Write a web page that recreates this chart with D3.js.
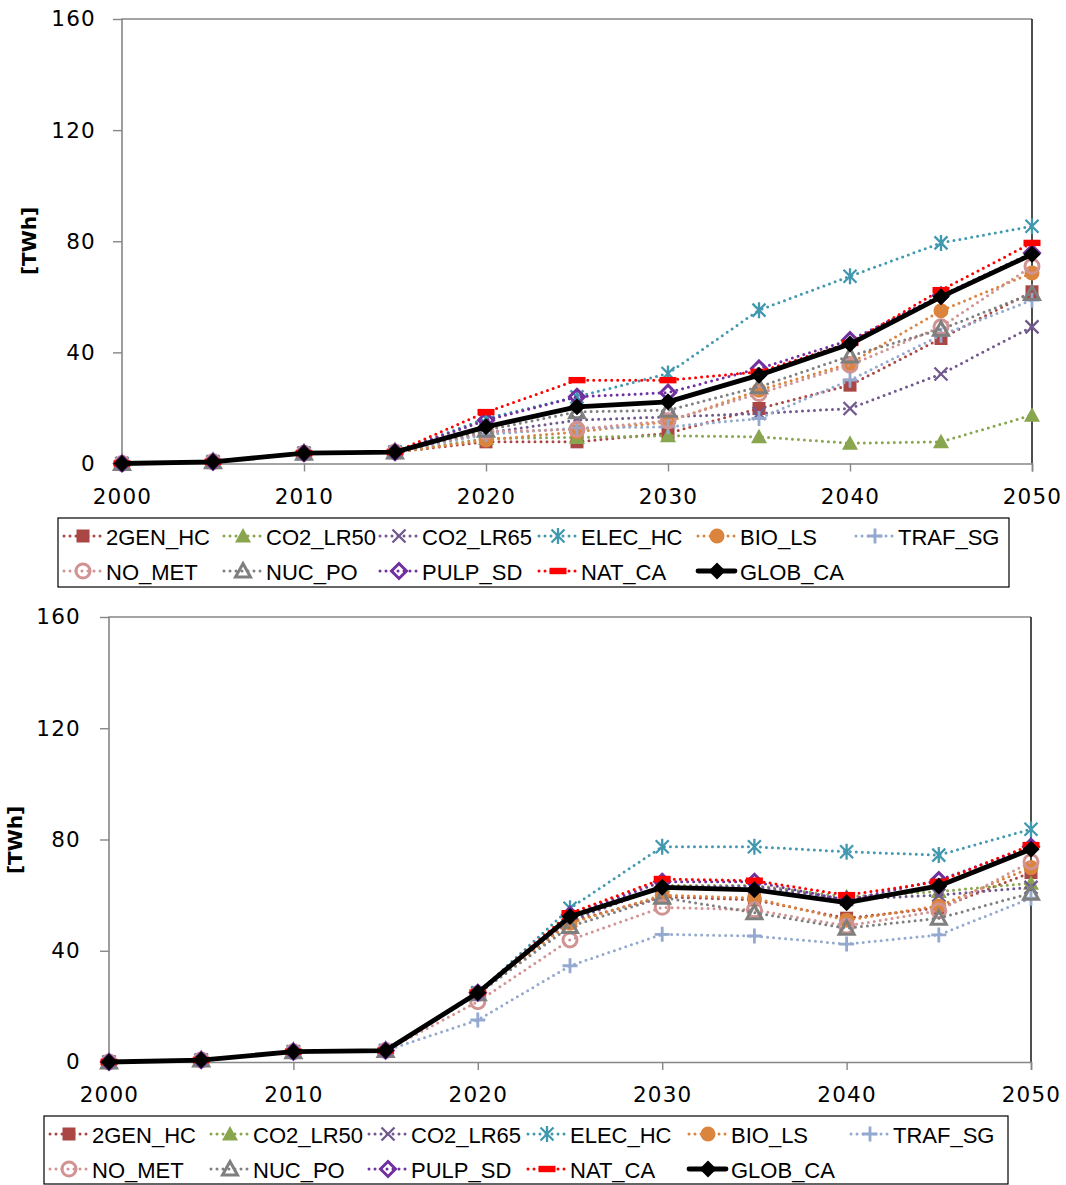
<!DOCTYPE html>
<html>
<head>
<meta charset="utf-8">
<script src="https://cdn.jsdelivr.net/npm/d3@7"></script>
<style>
  html, body { margin: 0; padding: 0; background: #fff; }
  svg { display: block; }
</style>
</head>
<body>
<svg id="chart" width="1066" height="1185"></svg>
<script>
// Years on the horizontal axis
const years = [2000, 2005, 2010, 2015, 2020, 2025, 2030, 2035, 2040, 2045, 2050];
const xTicks = [2000, 2010, 2020, 2030, 2040, 2050];
const yTicks = [0, 40, 80, 120, 160];
const seriesNames = ["2GEN_HC", "CO2_LR50", "CO2_LR65", "ELEC_HC", "BIO_LS", "TRAF_SG",
                     "NO_MET", "NUC_PO", "PULP_SD", "NAT_CA", "GLOB_CA"];
const unitLabel = "[TWh]";

// Upper panel values [TWh]
const a_2GEN_HC  = [0, 0.6, 3.7, 4.1, 7.8, 7.8, 10.9, 19.8, 28.2, 45.0, 61.8];
const a_CO2_LR50 = [0, 0.6, 3.7, 4.1, 9.0, 9.4, 10.0, 9.6, 7.3, 7.8, 17.4];
const a_CO2_LR65 = [0, 0.6, 3.7, 4.1, 11.0, 15.6, 16.8, 18.0, 19.8, 32.2, 49.2];
const a_ELEC_HC  = [0, 0.6, 3.7, 4.1, 16.2, 24.0, 32.4, 55.2, 67.4, 79.4, 85.4];
const a_BIO_LS   = [0, 0.6, 3.7, 4.1, 8.5, 11.4, 15.0, 26.4, 36.0, 55.0, 68.6];
const a_TRAF_SG  = [0, 0.6, 3.7, 4.1, 10.5, 12.8, 13.2, 16.2, 30.0, 46.2, 58.8];
const a_NO_MET   = [0, 0.6, 3.7, 4.1, 11.4, 12.3, 15.4, 25.2, 35.4, 49.2, 71.0];
const a_NUC_PO   = [0, 0.6, 3.7, 4.1, 12.0, 18.6, 19.2, 27.6, 38.7, 48.3, 61.2];
const a_PULP_SD  = [0, 0.6, 3.7, 4.1, 15.6, 24.0, 25.5, 34.2, 44.4, 60.5, 75.8];
const a_NAT_CA   = [0, 0.6, 3.7, 4.1, 18.5, 30.0, 30.0, 33.0, 43.4, 62.4, 79.4];
const a_GLOB_CA  = [0, 0.6, 3.7, 4.1, 13.2, 20.4, 22.2, 31.8, 43.0, 60.0, 75.3];

// Lower panel values [TWh]
const b_2GEN_HC  = [0, 0.7, 3.7, 4.1, 24.8, 50.5, 59.4, 58.3, 51.7, 55.4, 68.1];
const b_CO2_LR50 = [0, 0.7, 3.7, 4.1, 24.8, 51.0, 63.5, 63.5, 59.4, 61.3, 64.3];
const b_CO2_LR65 = [0, 0.7, 3.7, 4.1, 24.8, 50.8, 63.0, 63.2, 58.5, 60.0, 62.8];
const b_ELEC_HC  = [0, 0.7, 3.7, 4.1, 24.9, 55.3, 77.4, 77.4, 75.6, 74.4, 83.7];
const b_BIO_LS   = [0, 0.7, 3.7, 4.1, 24.8, 49.9, 60.0, 58.9, 51.0, 56.1, 69.9];
const b_TRAF_SG  = [0, 0.7, 3.7, 4.1, 15.1, 34.6, 45.9, 45.3, 42.4, 45.7, 58.9];
const b_NO_MET   = [0, 0.7, 3.7, 4.1, 21.7, 43.9, 55.6, 54.7, 48.9, 54.4, 72.0];
const b_NUC_PO   = [0, 0.7, 3.7, 4.1, 24.5, 48.7, 59.2, 53.7, 48.1, 51.7, 60.7];
const b_PULP_SD  = [0, 0.7, 3.7, 4.1, 24.9, 52.9, 64.8, 64.8, 58.2, 65.4, 77.4];
const b_NAT_CA   = [0, 0.7, 3.7, 4.1, 25.0, 53.5, 65.8, 65.2, 60.0, 64.8, 78.0];
const b_GLOB_CA  = [0, 0.7, 3.7, 4.1, 24.9, 52.3, 62.8, 61.9, 57.3, 63.3, 76.5];

const upperValues = [a_2GEN_HC, a_CO2_LR50, a_CO2_LR65, a_ELEC_HC, a_BIO_LS, a_TRAF_SG,
                     a_NO_MET, a_NUC_PO, a_PULP_SD, a_NAT_CA, a_GLOB_CA];
const lowerValues = [b_2GEN_HC, b_CO2_LR50, b_CO2_LR65, b_ELEC_HC, b_BIO_LS, b_TRAF_SG,
                     b_NO_MET, b_NUC_PO, b_PULP_SD, b_NAT_CA, b_GLOB_CA];

// Appearance of each scenario: colour, marker shape, line style
const styles = [
  { color: "#AA4643", marker: "square",   dotted: true },
  { color: "#89A54E", marker: "triangle", dotted: true },
  { color: "#71588F", marker: "x",        dotted: true },
  { color: "#4198AF", marker: "asterisk", dotted: true },
  { color: "#DB843D", marker: "circle",   dotted: true },
  { color: "#93A9CF", marker: "plus",     dotted: true },
  { color: "#D19392", marker: "ring",     dotted: true },
  { color: "#7F7F7F", marker: "opentri",  dotted: true },
  { color: "#7030A0", marker: "opendiam", dotted: true },
  { color: "#FF0000", marker: "dash",     dotted: true },
  { color: "#000000", marker: "diamond",  dotted: false }
];

const svg = d3.select("#chart");
const tickFont = "'DejaVu Sans', Verdana, sans-serif";
const legendFont = "'Liberation Sans', Arial, sans-serif";

function drawMarker(g, type, color) {
  switch (type) {
    case "square":
      g.append("rect").attr("x", -6.5).attr("y", -6.5).attr("width", 13).attr("height", 13)
        .attr("fill", color);
      break;
    case "triangle":
      g.append("path").attr("d", "M0,-8 L8,6.5 L-8,6.5 Z").attr("fill", color);
      break;
    case "x":
      g.append("path").attr("d", "M-6.5,-6.5 L6.5,6.5 M-6.5,6.5 L6.5,-6.5")
        .attr("stroke", color).attr("stroke-width", 2.3).attr("fill", "none");
      break;
    case "asterisk":
      g.append("path").attr("d", "M-6.5,-6.5 L6.5,6.5 M-6.5,6.5 L6.5,-6.5 M0,-8 L0,8")
        .attr("stroke", color).attr("stroke-width", 2.3).attr("fill", "none");
      break;
    case "circle":
      g.append("circle").attr("r", 7.5).attr("fill", color);
      break;
    case "plus":
      g.append("path").attr("d", "M-7.5,0 L7.5,0 M0,-7.5 L0,7.5")
        .attr("stroke", color).attr("stroke-width", 2.8).attr("fill", "none");
      break;
    case "ring":
      g.append("circle").attr("r", 7).attr("fill", "none")
        .attr("stroke", color).attr("stroke-width", 3);
      break;
    case "opentri":
      g.append("path").attr("d", "M0,-7.5 L7.5,6 L-7.5,6 Z").attr("fill", "none")
        .attr("stroke", color).attr("stroke-width", 3).attr("stroke-linejoin", "miter");
      break;
    case "opendiam":
      g.append("path").attr("d", "M0,-7.5 L7.5,0 L0,7.5 L-7.5,0 Z").attr("fill", "none")
        .attr("stroke", color).attr("stroke-width", 3);
      break;
    case "dash":
      g.append("rect").attr("x", -8.5).attr("y", -3.2).attr("width", 17).attr("height", 6.4)
        .attr("fill", color);
      break;
    case "diamond":
      g.append("path").attr("d", "M0,-8.5 L8.5,0 L0,8.5 L-8.5,0 Z").attr("fill", color);
      break;
  }
}

function styleLine(sel, st) {
  sel.attr("fill", "none").attr("stroke", st.color)
    .attr("stroke-linecap", "round").attr("stroke-linejoin", "round");
  if (st.dotted) {
    sel.attr("stroke-width", 3).attr("stroke-dasharray", "0 6");
  } else {
    sel.attr("stroke-width", 4.8);
  }
}

function drawPanel(cfg, valuesList) {
  const x = d3.scaleLinear().domain([2000, 2050]).range([cfg.left, cfg.right]);
  const y = d3.scaleLinear().domain([0, 160]).range([cfg.bottom, cfg.top]);
  const g = svg.append("g");

  // plot frame: gray on three sides, dark on the right
  g.append("path")
    .attr("d", `M${cfg.right},${cfg.top} L${cfg.left},${cfg.top} L${cfg.left},${cfg.bottom}`)
    .attr("fill", "none").attr("stroke", "#868686").attr("stroke-width", 1.6);
  g.append("line").attr("x1", cfg.right).attr("x2", cfg.right)
    .attr("y1", cfg.top).attr("y2", cfg.bottom)
    .attr("stroke", "#222").attr("stroke-width", 1.6);

  // y axis
  const yAxis = d3.axisLeft(y).tickValues(yTicks).tickSize(9).tickPadding(17)
    .tickFormat(d3.format("d"));
  const ya = g.append("g").attr("transform", `translate(${cfg.left},0)`).call(yAxis);
  ya.select(".domain").remove();
  ya.selectAll(".tick line").attr("stroke", "#868686").attr("stroke-width", 1.4);
  ya.selectAll(".tick text").attr("font-family", tickFont).attr("font-size", 21.5)
    .attr("letter-spacing", "1.2px").attr("fill", "#000").attr("dx", cfg.yLabelDx);

  // x axis
  const xAxis = d3.axisBottom(x).tickValues(xTicks).tickSize(8).tickPadding(17)
    .tickFormat(d3.format("d"));
  const xa = g.append("g").attr("transform", `translate(0,${cfg.bottom})`).call(xAxis);
  xa.select(".domain").attr("stroke", "#868686").attr("stroke-width", 1.6);
  xa.selectAll(".tick line").attr("stroke", "#868686").attr("stroke-width", 1.4);
  xa.selectAll(".tick text").attr("font-family", tickFont).attr("font-size", 21.5)
    .attr("letter-spacing", "1.2px").attr("fill", "#000");

  // unit label
  g.append("text")
    .attr("transform", `translate(${cfg.unitX},${cfg.unitY}) rotate(-90)`)
    .attr("text-anchor", "middle").attr("dominant-baseline", "central")
    .attr("font-family", tickFont).attr("font-weight", "bold").attr("font-size", 20)
    .text(unitLabel);

  // series lines then markers
  const line = d3.line().x((d, i) => x(years[i])).y(d => y(d));
  valuesList.forEach((vals, si) => {
    const st = styles[si];
    const sg = g.append("g");
    styleLine(sg.append("path").attr("d", line(vals)), st);
    vals.forEach((v, i) => {
      const mg = sg.append("g").attr("transform", `translate(${x(years[i])},${y(v)})`);
      drawMarker(mg, st.marker, st.color);
    });
  });

  // legend
  const L = cfg.legend;
  const lg = g.append("g");
  lg.append("rect").attr("x", L.x).attr("y", L.y).attr("width", L.w).attr("height", L.h)
    .attr("fill", "#fff").attr("stroke", "#000").attr("stroke-width", 1.2);
  seriesNames.forEach((name, si) => {
    const row = si < 6 ? 0 : 1;
    const col = si < 6 ? si : si - 6;
    const sx = L.cols[col];
    const cy = L.y + L.rowY[row];
    const st = styles[si];
    styleLine(lg.append("path").attr("d", `M${sx},${cy} L${sx + 37},${cy}`), st);
    drawMarker(lg.append("g").attr("transform", `translate(${sx + 19},${cy})`), st.marker, st.color);
    lg.append("text").attr("x", sx + 42).attr("y", cy + 1).attr("dominant-baseline", "central")
      .attr("font-family", legendFont).attr("font-size", 22).attr("fill", "#000")
      .text(name);
  });
}

drawPanel({
  left: 122, right: 1032, top: 19, bottom: 463.5,
  yLabelDx: 0, unitX: 29, unitY: 241,
  legend: { x: 58, y: 518, w: 951, h: 69, rowY: [18, 53],
            cols: [64, 224, 380, 539, 698, 856] }
}, upperValues);

drawPanel({
  left: 109, right: 1031, top: 617, bottom: 1062,
  yLabelDx: -2, unitX: 15, unitY: 840,
  legend: { x: 44, y: 1116, w: 964, h: 68, rowY: [18, 53],
            cols: [50, 211, 369, 528, 689, 851] }
}, lowerValues);
</script>
</body>
</html>
